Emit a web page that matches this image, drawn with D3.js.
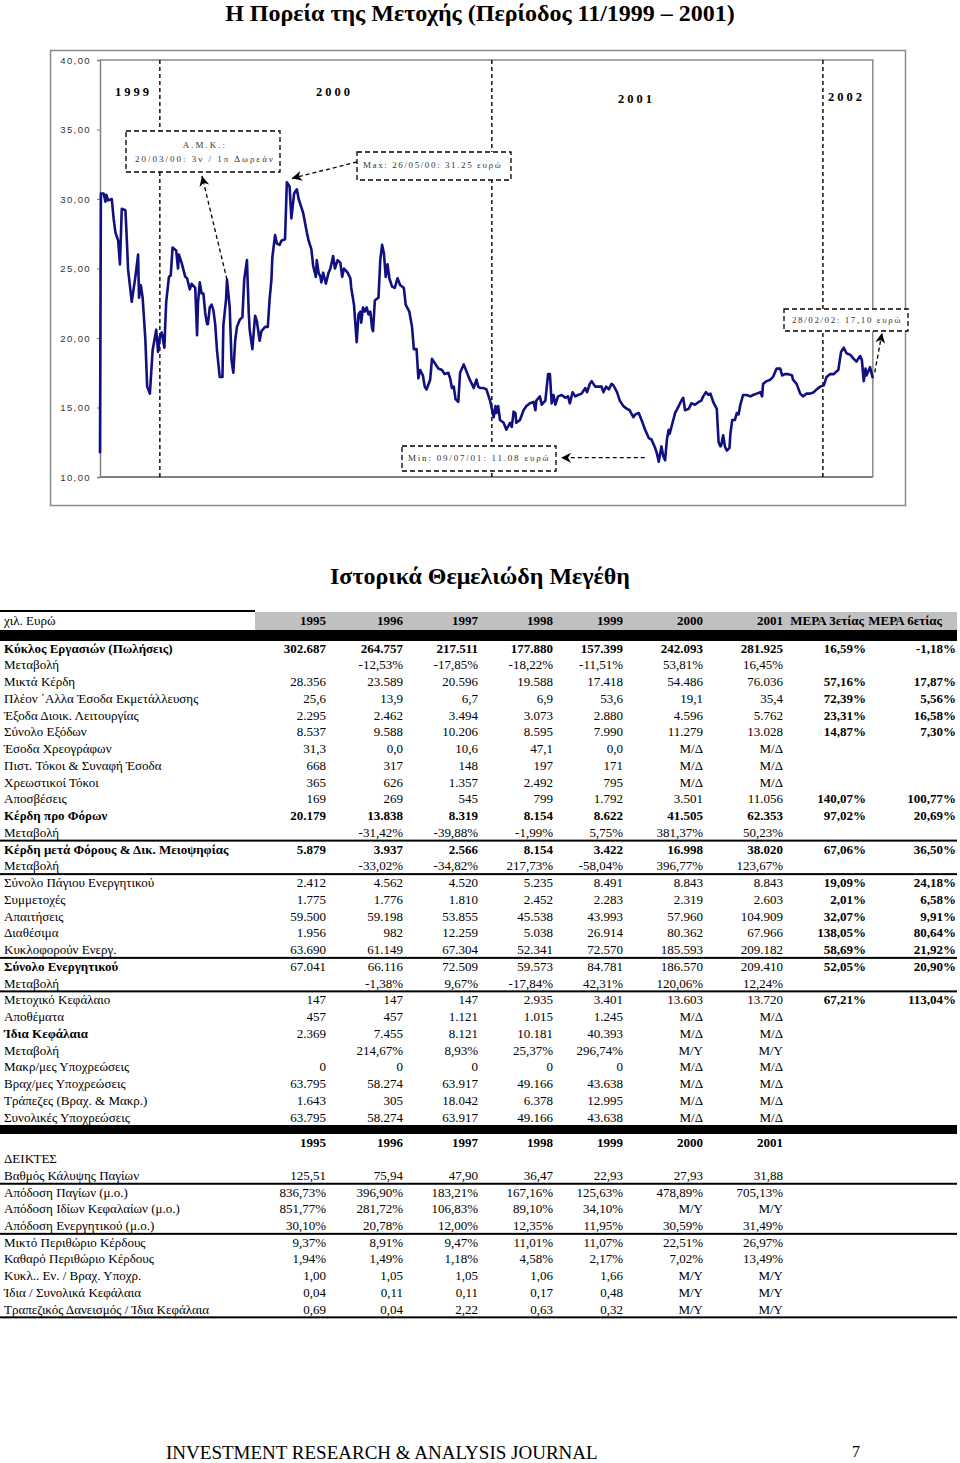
<!DOCTYPE html>
<html><head><meta charset="utf-8">
<script src="https://cdn.jsdelivr.net/npm/d3@7"></script>
<style>body{margin:0;background:#fff}svg{display:block}</style>
</head><body>
<svg id="page" width="960" height="1463"></svg>
<script>
// ---------------- DATA ----------------
const pageTitle = "Η Πορεία της Μετοχής (Περίοδος 11/1999 – 2001)";
const tableTitle = "Ιστορικά Θεμελιώδη Μεγέθη";
const footerText = "INVESTMENT RESEARCH & ANALYSIS JOURNAL";
const pageNumber = "7";

// share price (euro): day offsets from priceStart, and closing values
const priceStart = [1999, 9, 27];
const priceDay = [0,1,4,6,7,9,13,15,17,20,22,24,28,29,31,35,39,42,43,45,47,50,52,55,58,62,64,66,68,71,72,73,76,78,80,84,86,87,90,94,96,99,101,105,107,108,110,112,114,116,118,119,121,123,125,127,129,132,135,136,139,140,143,145,147,149,151,154,157,159,162,164,165,168,171,173,176,178,182,185,187,189,190,193,195,198,200,204,206,209,211,214,217,219,222,224,228,230,233,235,238,239,241,243,244,246,249,252,254,257,259,262,265,267,269,273,276,277,280,283,285,287,288,290,292,294,296,298,300,301,303,305,307,309,311,313,315,317,319,322,325,328,331,333,335,337,341,344,346,349,351,353,356,358,360,364,366,369,373,377,380,384,386,388,390,392,395,397,399,401,404,407,410,412,415,417,419,423,426,430,434,436,437,439,441,445,448,452,454,456,458,459,463,467,470,474,478,480,481,485,487,491,494,496,498,500,502,505,509,513,516,518,521,524,527,531,535,537,540,542,546,549,553,555,558,561,564,566,570,573,577,581,584,588,590,594,597,601,605,608,612,614,616,619,621,623,625,627,628,630,634,638,641,643,645,649,652,656,660,663,665,668,671,673,676,680,682,684,685,687,689,691,694,695,697,700,702,704,706,709,713,717,720,724,728,730,731,735,739,742,746,750,752,755,759,763,764,768,772,775,779,783,787,790,794,798,801,805,809,812,814,817,820,823,827,831,834,838,840,842,844,845,847,849,852];
const priceValue = [11.7,30.4,30.4,29.8,30.3,29.9,30.0,28.6,27.6,27.0,25.3,29.3,29.2,27.9,24.9,22.6,24.4,26.0,22.9,23.8,22.9,19.9,16.5,16.0,19.1,20.6,19.0,20.1,20.4,19.3,21.1,22.6,24.4,24.5,26.5,26.3,25.0,26.0,25.4,24.4,24.3,23.5,23.9,23.6,20.2,22.5,24.0,23.2,23.2,21.8,21.0,21.0,22.2,22.4,22.0,21.0,19.1,17.2,17.2,20.9,22.8,24.2,22.2,18.4,17.5,19.8,20.8,21.3,21.5,24.2,25.6,21.8,20.6,19.2,21.6,21.2,19.8,20.5,20.8,20.8,22.8,24.2,25.8,27.4,26.8,26.7,27.0,27.1,31.2,30.9,28.6,30.4,30.7,30.0,29.4,29.0,27.6,27.0,26.4,25.2,24.4,25.6,24.7,24.4,24.0,24.7,23.9,24.7,25.0,25.9,25.0,25.6,25.4,24.4,25.0,24.7,24.3,23.6,22.4,19.7,21.7,21.9,21.1,22.2,21.9,22.2,21.7,21.9,20.7,20.5,22.7,22.8,22.9,25.6,26.7,26.1,24.4,25.3,24.3,23.7,23.6,24.3,23.8,23.7,23.6,22.4,21.9,20.8,19.2,19.2,17.1,17.7,17.3,16.5,16.3,17.0,18.5,18.2,17.8,17.7,17.4,17.5,17.1,16.4,16.5,15.6,15.4,17.5,17.8,18.1,17.6,17.1,16.7,16.4,17.0,16.5,16.4,16.4,16.3,15.5,14.3,15.1,14.6,15.1,14.1,13.9,13.4,13.9,13.6,14.7,14.6,13.9,14.1,14.8,15.1,15.3,15.4,14.8,15.5,15.8,15.2,15.5,17.4,17.4,15.3,15.9,15.2,15.8,15.9,15.7,15.8,15.3,16.1,15.8,15.9,16.0,16.4,16.1,16.7,16.9,16.5,16.5,16.5,16.1,16.5,16.3,16.7,16.6,16.1,15.5,15.1,14.9,14.8,14.3,14.5,14.6,14.1,13.4,12.8,12.7,12.1,11.7,11.1,12.2,11.5,11.2,12.7,13.4,13.1,13.6,14.6,15.1,15.5,15.7,14.8,14.9,15.3,15.2,15.4,15.5,15.8,16.1,15.9,16.0,15.4,14.9,12.5,12.2,12.3,13.0,12.2,11.9,12.1,13.1,14.1,14.1,14.6,14.5,15.2,15.9,15.9,15.8,15.9,16.0,16.1,15.8,16.7,16.9,17.0,17.2,17.8,17.8,17.3,17.4,17.4,17.3,17.0,16.7,16.0,15.8,16.0,16.0,16.1,16.3,16.5,16.6,17.2,17.4,17.4,17.6,17.7,19.0,19.3,18.9,18.8,18.5,18.3,18.7,18.4,16.9,17.8,17.3,17.6,17.9,17.1];

const yTicks = [10, 15, 20, 25, 30, 35, 40];
const yearBoundaries = [[2000,0,1],[2001,0,1],[2002,0,1]];
const yearLabels = ["1999", "2000", "2001", "2002"];
const noteAmk = ["Α.Μ.Κ.:", "20/03/00: 3ν / 1π Δωρεάν"];
const noteMax = "Max: 26/05/00: 31.25 ευρώ";
const noteMin = "Min: 09/07/01: 11.08 ευρώ";
const noteLast = "28/02/02: 17,10 ευρώ";
const amkDay = 140;

// fundamentals table
const unitLabel = "χιλ. Ευρώ";
const years = ["1995", "1996", "1997", "1998", "1999", "2000", "2001"];
const meraHeaders = ["ΜΕΡΑ 3ετίας", "ΜΕΡΑ 6ετίας"];
const rowLabels = [
  "Κύκλος Εργασιών (Πωλήσεις)", "Μεταβολή", "Μικτά Κέρδη", "Πλέον ΄Αλλα Έσοδα Εκμετάλλευσης",
  "Έξοδα Διοικ. Λειτουργίας", "Σύνολο Εξόδων", "Έσοδα Χρεογράφων", "Πιστ. Τόκοι & Συναφή Έσοδα",
  "Χρεωστικοί Τόκοι", "Αποσβέσεις", "Κέρδη προ Φόρων", "Μεταβολή",
  "Κέρδη μετά Φόρους & Δικ. Μειοψηφίας", "Μεταβολή", "Σύνολο Πάγιου Ενεργητικού", "Συμμετοχές",
  "Απαιτήσεις", "Διαθέσιμα", "Κυκλοφορούν Ενεργ.", "Σύνολο Ενεργητικού", "Μεταβολή",
  "Μετοχικό Κεφάλαιο", "Αποθέματα", "Ίδια Κεφάλαια", "Μεταβολή", "Μακρ/μες Υποχρεώσεις",
  "Βραχ/μες Υποχρεώσεις", "Τράπεζες (Βραχ. & Μακρ.)", "Συνολικές Υποχρεώσεις"];
// 0 normal, 1 bold label, 2 bold label & values
const rowBold = [2,0,0,0,0,0,0,0,0,0,2,0,2,0,0,0,0,0,0,1,0,0,0,1,0,0,0,0,0];
const rowValues = [
  ["302.687","264.757","217.511","177.880","157.399","242.093","281.925"],
  ["","-12,53%","-17,85%","-18,22%","-11,51%","53,81%","16,45%"],
  ["28.356","23.589","20.596","19.588","17.418","54.486","76.036"],
  ["25,6","13,9","6,7","6,9","53,6","19,1","35,4"],
  ["2.295","2.462","3.494","3.073","2.880","4.596","5.762"],
  ["8.537","9.588","10.206","8.595","7.990","11.279","13.028"],
  ["31,3","0,0","10,6","47,1","0,0","Μ/Δ","Μ/Δ"],
  ["668","317","148","197","171","Μ/Δ","Μ/Δ"],
  ["365","626","1.357","2.492","795","Μ/Δ","Μ/Δ"],
  ["169","269","545","799","1.792","3.501","11.056"],
  ["20.179","13.838","8.319","8.154","8.622","41.505","62.353"],
  ["","-31,42%","-39,88%","-1,99%","5,75%","381,37%","50,23%"],
  ["5.879","3.937","2.566","8.154","3.422","16.998","38.020"],
  ["","-33,02%","-34,82%","217,73%","-58,04%","396,77%","123,67%"],
  ["2.412","4.562","4.520","5.235","8.491","8.843","8.843"],
  ["1.775","1.776","1.810","2.452","2.283","2.319","2.603"],
  ["59.500","59.198","53.855","45.538","43.993","57.960","104.909"],
  ["1.956","982","12.259","5.038","26.914","80.362","67.966"],
  ["63.690","61.149","67.304","52.341","72.570","185.593","209.182"],
  ["67.041","66.116","72.509","59.573","84.781","186.570","209.410"],
  ["","-1,38%","9,67%","-17,84%","42,31%","120,06%","12,24%"],
  ["147","147","147","2.935","3.401","13.603","13.720"],
  ["457","457","1.121","1.015","1.245","Μ/Δ","Μ/Δ"],
  ["2.369","7.455","8.121","10.181","40.393","Μ/Δ","Μ/Δ"],
  ["","214,67%","8,93%","25,37%","296,74%","Μ/Υ","Μ/Υ"],
  ["0","0","0","0","0","Μ/Δ","Μ/Δ"],
  ["63.795","58.274","63.917","49.166","43.638","Μ/Δ","Μ/Δ"],
  ["1.643","305","18.042","6.378","12.995","Μ/Δ","Μ/Δ"],
  ["63.795","58.274","63.917","49.166","43.638","Μ/Δ","Μ/Δ"]];
const mera3 = ["16,59%","","57,16%","72,39%","23,31%","14,87%","","","","140,07%","97,02%","","67,06%","","19,09%","2,01%","32,07%","138,05%","58,69%","52,05%","","67,21%","","","","","","",""];
const mera6 = ["-1,18%","","17,87%","5,56%","16,58%","7,30%","","","","100,77%","20,69%","","36,50%","","24,18%","6,58%","9,91%","80,64%","21,92%","20,90%","","113,04%","","","","","","",""];
const rulesAfter = [11, 13, 18, 20];

const ratioTitle = "ΔΕΙΚΤΕΣ";
const ratioLabels = ["Βαθμός Κάλυψης Παγίων", "Απόδοση Παγίων (μ.ο.)", "Απόδοση Ιδίων Κεφαλαίων (μ.ο.)",
  "Απόδοση Ενεργητικού (μ.ο.)", "Μικτό Περιθώριο Κέρδους", "Καθαρό Περιθώριο Κέρδους",
  "Κυκλ.. Εν. / Βραχ. Υποχρ.", "Ίδια / Συνολικά Κεφάλαια", "Τραπεζικός Δανεισμός / Ίδια Κεφάλαια"];
const ratioValues = [
  ["125,51","75,94","47,90","36,47","22,93","27,93","31,88"],
  ["836,73%","396,90%","183,21%","167,16%","125,63%","478,89%","705,13%"],
  ["851,77%","281,72%","106,83%","89,10%","34,10%","Μ/Υ","Μ/Υ"],
  ["30,10%","20,78%","12,00%","12,35%","11,95%","30,59%","31,49%"],
  ["9,37%","8,91%","9,47%","11,01%","11,07%","22,51%","26,97%"],
  ["1,94%","1,49%","1,18%","4,58%","2,17%","7,02%","13,49%"],
  ["1,00","1,05","1,05","1,06","1,66","Μ/Υ","Μ/Υ"],
  ["0,04","0,11","0,11","0,17","0,48","Μ/Υ","Μ/Υ"],
  ["0,69","0,04","2,22","0,63","0,32","Μ/Υ","Μ/Υ"]];
const ratioRulesAfter = [0, 3, 8];

// ---------------- LAYOUT ----------------
const serif = "'Liberation Serif','Times New Roman',serif";
const sans = "'Liberation Sans',Arial,sans-serif";
const svg = d3.select("#page");

svg.append("text").attr("x", 480).attr("y", 21).attr("text-anchor", "middle")
  .attr("font-family", serif).attr("font-weight", "bold").attr("font-size", 24).text(pageTitle);

// chart frame
svg.append("rect").attr("x", 50.5).attr("y", 50.5).attr("width", 855).attr("height", 455)
  .attr("fill", "none").attr("stroke", "#8a8a8a").attr("stroke-width", 1.5);

const t0 = new Date(Date.UTC(...priceStart));
const dates = priceDay.map(d => d3.utcDay.offset(t0, d));
const x = d3.scaleUtc().domain([t0, d3.utcDay.offset(t0, 852)]).range([100, 872.8]);
const y = d3.scaleLinear().domain([10, 40]).range([477, 60]);
const px = i => x(dates[i]), py = i => y(priceValue[i]);

const g = svg.append("g");
g.append("path").attr("d", `M100,${y(40)}H${x.range()[1]}V${y(10)}`)
  .attr("fill", "none").attr("stroke", "#8a8a8a").attr("stroke-width", 1.5);
g.append("line").attr("x1", 100).attr("x2", x.range()[1]).attr("y1", y(10)).attr("y2", y(10))
  .attr("stroke", "#808080").attr("stroke-width", 2);

const yAxis = g.append("g").attr("transform", "translate(100,0)")
  .call(d3.axisLeft(y).tickValues(yTicks).tickSize(3).tickPadding(6)
    .tickFormat(d => d3.format(".2f")(d).replace(".", ",")));
yAxis.select(".domain").attr("stroke", "#808080").attr("stroke-width", 1.5);
yAxis.selectAll(".tick line").attr("stroke", "#808080");
yAxis.selectAll(".tick text").attr("font-family", sans).attr("font-size", 9.5)
  .attr("fill", "#333").style("letter-spacing", "1.4px");

g.selectAll("line.yb").data(yearBoundaries).join("line").attr("class", "yb")
  .attr("x1", d => x(new Date(Date.UTC(...d)))).attr("x2", d => x(new Date(Date.UTC(...d))))
  .attr("y1", 60).attr("y2", y(10)).attr("stroke", "#000").attr("stroke-width", 1.4)
  .attr("stroke-dasharray", "4,3");

const yearPos = [[115, 96], [316, 96], [618, 103], [828, 101]];
g.selectAll("text.yl").data(yearLabels).join("text").attr("class", "yl")
  .attr("x", (d, i) => yearPos[i][0]).attr("y", (d, i) => yearPos[i][1])
  .attr("font-family", serif).attr("font-weight", "bold").attr("font-size", 12.5)
  .style("letter-spacing", "3px").text(d => d);

g.append("path").datum(d3.range(priceDay.length))
  .attr("d", d3.line().x(px).y(py))
  .attr("fill", "none").attr("stroke", "#101080").attr("stroke-width", 2.6).attr("stroke-linejoin", "round");

svg.append("defs").append("marker").attr("id", "ah").attr("viewBox", "-10 -6 12 12")
  .attr("markerWidth", 12).attr("markerHeight", 12).attr("orient", "auto").attr("markerUnits", "userSpaceOnUse")
  .append("path").attr("d", "M0,0 L-10,-5 L-7,0 L-10,5 Z").attr("fill", "#000");

function box(x0, y0, w, h) {
  g.append("rect").attr("x", x0).attr("y", y0).attr("width", w).attr("height", h)
    .attr("fill", "#fff").attr("stroke", "#000").attr("stroke-width", 1.3).attr("stroke-dasharray", "5,3");
}
function note(txt, xx, yy, anchor, ls) {
  g.append("text").attr("x", xx).attr("y", yy).attr("text-anchor", anchor || "start")
    .attr("font-family", serif).attr("font-size", 9).attr("fill", "#333")
    .style("letter-spacing", (ls || 2) + "px").text(txt);
}
function arrow(x1, y1, x2, y2) {
  g.append("line").attr("x1", x1).attr("y1", y1).attr("x2", x2).attr("y2", y2)
    .attr("stroke", "#000").attr("stroke-width", 1.3).attr("stroke-dasharray", "4,3")
    .attr("marker-end", "url(#ah)");
}
const iAmk = priceDay.indexOf(amkDay);
const iMax = d3.maxIndex(priceValue), iMin = d3.minIndex(priceValue), iLast = priceValue.length - 1;

box(126, 131, 154, 41);
note(noteAmk[0], 205, 148, "middle");
note(noteAmk[1], 205, 162, "middle");
arrow(px(iAmk), py(iAmk), 202, 176);

box(357, 152, 154, 28);
note(noteMax, 363, 168, "start", 1.6);
arrow(357, 162, px(iMax) + 5, py(iMax) - 4);

box(402, 446, 154, 25);
note(noteMin, 408, 461, "start", 1.8);
arrow(px(iMin) - 14, py(iMin) - 4, 561, py(iMin) - 4);

box(784, 309, 124, 22);
note(noteLast, 792, 323, "start", 1.6);
arrow(px(iLast) + 2, py(iLast) - 6, 882, 333);

// ---------------- TABLE ----------------
svg.append("text").attr("x", 480).attr("y", 584).attr("text-anchor", "middle")
  .attr("font-family", serif).attr("font-weight", "bold").attr("font-size", 24).text(tableTitle);

const colRight = [326, 403, 478, 553, 623, 703, 783, 866, 956];
const tableRight = 957;
const fs = 13;
const T = svg.append("g").attr("font-family", serif).attr("font-size", fs).attr("fill", "#000");

T.append("rect").attr("x", 255).attr("y", 612).attr("width", tableRight - 255).attr("height", 18).attr("fill", "#c0c0c0");
T.append("rect").attr("x", 0).attr("y", 610).attr("width", 255).attr("height", 2).attr("fill", "#000");
T.append("rect").attr("x", 0).attr("y", 630).attr("width", tableRight).attr("height", 11).attr("fill", "#000");
T.append("text").attr("x", 4).attr("y", 625).text(unitLabel);
T.selectAll("text.hy").data(years).join("text").attr("class", "hy")
  .attr("x", (d, i) => colRight[i]).attr("y", 625).attr("text-anchor", "end").attr("font-weight", "bold").text(d => d);
T.selectAll("text.hm").data(meraHeaders).join("text").attr("class", "hm")
  .attr("x", (d, i) => [864, 942][i]).attr("y", 625).attr("text-anchor", "end").attr("font-weight", "bold").text(d => d);

const rowY0 = 648, step = 16.75;
const rowG = T.selectAll("g.row").data(rowLabels).join("g").attr("class", "row")
  .attr("transform", (d, i) => `translate(0,${rowY0 + i * step + 4.5})`);
rowG.append("text").attr("x", 4).attr("font-weight", (d, i) => rowBold[i] ? "bold" : "normal").text(d => d);
rowG.each(function (d, i) {
  const vals = rowValues[i].concat([mera3[i], mera6[i]]);
  d3.select(this).selectAll("text.v").data(vals).join("text").attr("class", "v")
    .attr("x", (v, j) => colRight[j]).attr("text-anchor", "end")
    .attr("font-weight", (v, j) => (j >= 7 || rowBold[i] === 2) ? "bold" : "normal").text(v => v);
});
T.selectAll("rect.rule").data(rulesAfter).join("rect").attr("class", "rule")
  .attr("x", 0).attr("width", tableRight).attr("height", 2)
  .attr("y", d => rowY0 + (d + 0.5) * step - 1).attr("fill", "#000");
T.append("rect").attr("x", 0).attr("y", 1125).attr("width", tableRight).attr("height", 9).attr("fill", "#000");

const rY0 = 1142, rStep = 16.7;
T.selectAll("text.ry").data(years).join("text").attr("class", "ry")
  .attr("x", (d, i) => colRight[i]).attr("y", rY0 + 4.5).attr("text-anchor", "end").attr("font-weight", "bold").text(d => d);
T.append("text").attr("x", 4).attr("y", rY0 + rStep + 4.5).text(ratioTitle);
const rg = T.selectAll("g.rrow").data(ratioLabels).join("g").attr("class", "rrow")
  .attr("transform", (d, i) => `translate(0,${rY0 + (i + 2) * rStep + 4.5})`);
rg.append("text").attr("x", 4).text(d => d);
rg.each(function (d, i) {
  d3.select(this).selectAll("text.v").data(ratioValues[i]).join("text").attr("class", "v")
    .attr("x", (v, j) => colRight[j]).attr("text-anchor", "end").text(v => v);
});
T.selectAll("rect.rrule").data(ratioRulesAfter).join("rect").attr("class", "rrule")
  .attr("x", 0).attr("width", tableRight).attr("height", 2)
  .attr("y", d => rY0 + (d + 2.5) * rStep - 1).attr("fill", "#000");

// footer
svg.append("text").attr("x", 166).attr("y", 1459).attr("font-family", serif).attr("font-size", 19).text(footerText);
svg.append("text").attr("x", 852).attr("y", 1457).attr("font-family", serif).attr("font-size", 16).text(pageNumber);
</script>
</body></html>
